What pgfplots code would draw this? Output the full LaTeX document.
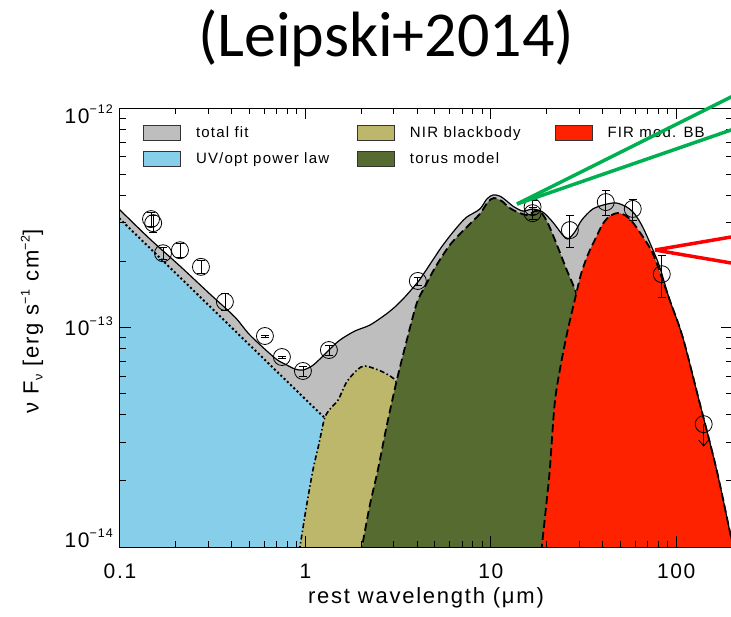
\documentclass[border=0pt]{standalone}
\usepackage{fontspec}
\setmainfont{Liberation Sans}[LetterSpace=8]
\newfontfamily\titlefont{Carlito}
\usepackage{pgfplots}
\usepackage{pgfplotstable}
\pgfplotsset{compat=1.18}
\usetikzlibrary{arrows.meta}

\definecolor{fitgray}{RGB}{190,190,190}
\definecolor{uvblue}{RGB}{135,206,235}
\definecolor{nirkhaki}{RGB}{189,183,107}
\definecolor{torusgreen}{RGB}{85,107,47}
\definecolor{firred}{RGB}{255,34,0}
\definecolor{callgreen}{RGB}{0,176,80}
\definecolor{callred}{RGB}{255,0,0}

\newcommand\ticksize{\fontsize{21}{21}\selectfont}
\newcommand\labelsize{\fontsize{22}{22}\selectfont}
\newcommand\legsize{\fontsize{15}{15}\selectfont}
\newcommand\smalltxt{\fontsize{12.5}{12.5}\selectfont}
\newcommand\tenexp[1]{10\raisebox{10pt}{\smalltxt #1}}

% SED components (rest wavelength in micron, nu F_nu in erg/s/cm^2)
\pgfplotstableread{
x y
0.06 1e-15
0.06 5.2e-13
0.1 3.429e-13
0.1451 2.530e-13
0.2106 1.906e-13
0.3056 1.421e-13
0.4168 1.116e-13
0.5021 9.243e-14
0.6847 7.261e-14
0.7754 6.820e-14
0.8779 6.471e-14
0.9694 6.404e-14
1.084 6.679e-14
1.197 7.186e-14
1.339 7.898e-14
1.535 8.769e-14
1.849 9.640e-14
2.227 1.026e-13
2.683 1.140e-13
3.037 1.240e-13
3.439 1.377e-13
4.042 1.612e-13
4.409 1.790e-13
4.867 2.030e-13
5.377 2.303e-13
6.012 2.611e-13
6.807 2.961e-13
7.424 3.188e-13
8.724 3.466e-13
9.515 3.849e-13
10.25 4.014e-13
11.18 3.972e-13
12.20 3.769e-13
13.14 3.577e-13
14.88 3.394e-13
16.84 3.466e-13
19.07 3.358e-13
21.59 3.023e-13
24.44 2.638e-13
26.01 2.530e-13
28.37 2.723e-13
30.95 3.088e-13
35.47 3.466e-13
42.21 3.652e-13
47.78 3.691e-13
54.12 3.539e-13
59.76 3.290e-13
65.98 2.870e-13
73.78 2.327e-13
81.50 1.886e-13
92.26 1.334e-13
108.4 9.05e-14
133.9 4.53e-14
165.3 2.243e-14
201.7 1.021e-14
360 1e-15
}\totalfit

\pgfplotstableread{
x y
0.06 1e-15
0.06 4.74e-13
0.1 3.12e-13
1.5 3.38e-14
1.5 1e-15
}\powerlaw

\pgfplotstableread{
x y
0.6 1e-15
0.934 1e-14
1.006 1.48e-14
1.098 2.243e-14
1.18 2.92e-14
1.27 3.87e-14
1.37 4.29e-14
1.50 4.67e-14
1.67 5.65e-14
1.90 6.40e-14
2.10 6.68e-14
2.62 6.27e-14
3.11 5.65e-14
3.75 4.21e-14
4.69 2.243e-14
5.65 1e-14
9.6 1e-15
}\nirbb

\pgfplotstableread{
x y
1.2 1e-15
2.017 1e-14
2.227 1.553e-14
2.459 2.243e-14
2.751 3.595e-14
3.113 5.764e-14
3.525 8.769e-14
3.991 1.293e-13
4.462 1.562e-13
4.990 1.866e-13
6.012 2.376e-13
7.424 2.870e-13
8.724 3.290e-13
9.634 3.730e-13
10.38 3.890e-13
11.46 3.769e-13
12.66 3.503e-13
14.33 3.323e-13
15.83 3.254e-13
17.27 3.394e-13
18.60 3.358e-13
20.30 2.992e-13
22.97 2.327e-13
25.69 1.828e-13
29.09 1.406e-13
33.34 8.769e-14
37.75 4.674e-14
42.74 1e-14
60 1e-15
}\torus

\pgfplotstableread{
x y
14.1 1e-15
18.84 1e-14
20.04 1.637e-14
20.80 2.243e-14
22.13 4.53e-14
23.84 6.749e-14
26.01 9.741e-14
28.37 1.334e-13
30.56 1.734e-13
33.34 2.140e-13
36.81 2.557e-13
40.16 2.961e-13
43.80 3.221e-13
48.37 3.323e-13
52.79 3.254e-13
57.56 3.055e-13
65.17 2.638e-13
74.70 2.184e-13
84.55 1.646e-13
92.26 1.334e-13
108.4 9.05e-14
133.9 4.53e-14
165.3 2.243e-14
201.7 1.021e-14
360 1e-15
}\firbb

% photometry: x, nu F_nu, relative error
\pgfplotstableread{
x y e
0.147 3.12e-13 0.076
0.151 2.99e-13 0.088
0.1706 2.18e-13 0.065
0.2106 2.25e-13 0.076
0.2733 1.89e-13 0.065
0.368 1.31e-13 0.088
0.605 9.15e-14 0.01
0.747 7.34e-14 0.01
0.970 6.34e-14 0.054
1.339 7.9e-14 0.054
4.04 1.63e-13 0.043
16.8 3.54e-13 0.076
16.8 3.32e-13 0.065
26.7 2.78e-13 0.17
41.7 3.73e-13 0.135
58.3 3.47e-13 0.11
83.6 1.75e-13 0.22
}\phot

\pgfplotstableread{
x y e
140.7 3.63e-14 0.21
}\uplim

\begin{document}
\begin{tikzpicture}[x=1pt,y=1pt]
\useasboundingbox (0,0) rectangle (731,616);
\node[font=\titlefont\fontsize{64}{64}\selectfont, anchor=base] at (386,559) {(Leipski+2014)};
\begin{axis}[
  at={(120pt,69pt)}, anchor=south west,
  scale only axis, width=612pt, height=439pt,
  xmode=log, ymode=log,
  xmin=0.1, xmax=200, ymin=1e-14, ymax=1e-12,
  axis on top,
  axis line style={line width=1pt},
  every tick/.style={black, line width=1pt},
  major tick length=11pt, minor tick length=6pt,
  xtick={0.1,1,10,100}, xticklabels={0.1,1,10,100},
  ytick={1e-14,1e-13,1e-12},
  yticklabels={
    {\raisebox{0pt}[10pt][10pt]{\tenexp{−14}}},
    {\raisebox{0pt}[16pt][0pt]{\tenexp{−13}}},
    {\raisebox{0pt}[30pt][0pt]{\tenexp{−12}}}},
  xticklabel style={font=\ticksize, anchor=base, inner sep=0pt, yshift=-31pt},
  yticklabel style={font=\ticksize, anchor=east, inner sep=0pt, xshift=-7pt},
  xlabel={rest wavelength (μm)},
  every axis x label/.style={at={(axis description cs:0.5,-0.1276)}, anchor=base, font=\labelsize},
  ylabel={ν F\raisebox{-4pt}{\smalltxt ν} [erg s\raisebox{9pt}{\smalltxt −1} cm\raisebox{9pt}{\smalltxt −2}]},
  every axis y label/.style={at={(axis description cs:-0.1438,0.5148)}, rotate=90, anchor=center, font=\labelsize},
  legend columns=3, legend cell align=left,
  legend image code/.code={\draw[#1] (0pt,-6.5pt) rectangle (37pt,8.5pt);},
  legend style={at={(axis description cs:0.0376,0.9727)}, anchor=north west,
    draw=none, fill=none, inner sep=0pt, font=\legsize, row sep=0pt,
    nodes={inner xsep=0pt, inner ysep=6pt, text height=11pt, text depth=3.5pt},
    /tikz/every odd column/.append style={column sep=15pt},
    /tikz/column 2/.append style={column sep=28pt},
    /tikz/column 4/.append style={column sep=34pt}},
]
\addlegendimage{fill=fitgray, draw=black!80, line width=0.8pt}
\addlegendentry{total fit}
\addlegendimage{fill=nirkhaki, draw=black!80, line width=0.8pt}
\addlegendentry{NIR blackbody}
\addlegendimage{fill=firred, draw=black!80, line width=0.8pt}
\addlegendentry{FIR mod. BB}
\addlegendimage{fill=uvblue, draw=black!80, line width=0.8pt}
\addlegendentry{UV/opt power law}
\addlegendimage{fill=torusgreen, draw=black!80, line width=0.8pt}
\addlegendentry{torus model}

% filled components
\addplot[forget plot, fill=fitgray, draw=none, smooth] table {\totalfit};
\addplot[forget plot, fill=uvblue, draw=black, line width=2pt, dash pattern=on 2pt off 2.5pt] table {\powerlaw};
\addplot[forget plot, fill=nirkhaki, draw=black, line width=1.6pt, dash pattern=on 5pt off 2.5pt on 1.5pt off 2.5pt, smooth] table {\nirbb};
\addplot[forget plot, fill=torusgreen, draw=black, line width=1.8pt, dash pattern=on 8pt off 4pt, smooth] table {\torus};
\addplot[forget plot, fill=firred, draw=black, line width=1.8pt, dash pattern=on 8pt off 4pt, smooth] table {\firbb};
% total fit outline on top
\addplot[forget plot, black, line width=1.2pt, smooth] table {\totalfit};

% photometry
\addplot[forget plot, only marks, black, mark=o, mark size=8.5pt, mark options={line width=0.8pt},
  error bars/.cd, y dir=both, y explicit relative,
  error bar style={line width=0.8pt, black},
  error mark options={rotate=90, mark size=4pt, line width=0.8pt, black}]
  table[x=x, y=y, y error=e] {\phot};
\addplot[forget plot, only marks, black, mark=o, mark size=8.5pt, mark options={line width=0.8pt},
  error bars/.cd, y dir=minus, y explicit relative,
  error bar style={line width=0.8pt, black, -{Straight Barb[length=6pt,width=10pt]}},
  error mark=none]
  table[x=x, y=y, y error=e] {\uplim};
\end{axis}
% call-out lines
\draw[callgreen, line width=3.5pt] (517,412) -- (740,523.5);
\draw[callgreen, line width=3.5pt] (517,412) -- (740,489.1);
\draw[callred, line width=3.5pt] (655,366) -- (740,380.5);
\draw[callred, line width=3.5pt] (655,366) -- (740,351.5);
\end{tikzpicture}
\end{document}
